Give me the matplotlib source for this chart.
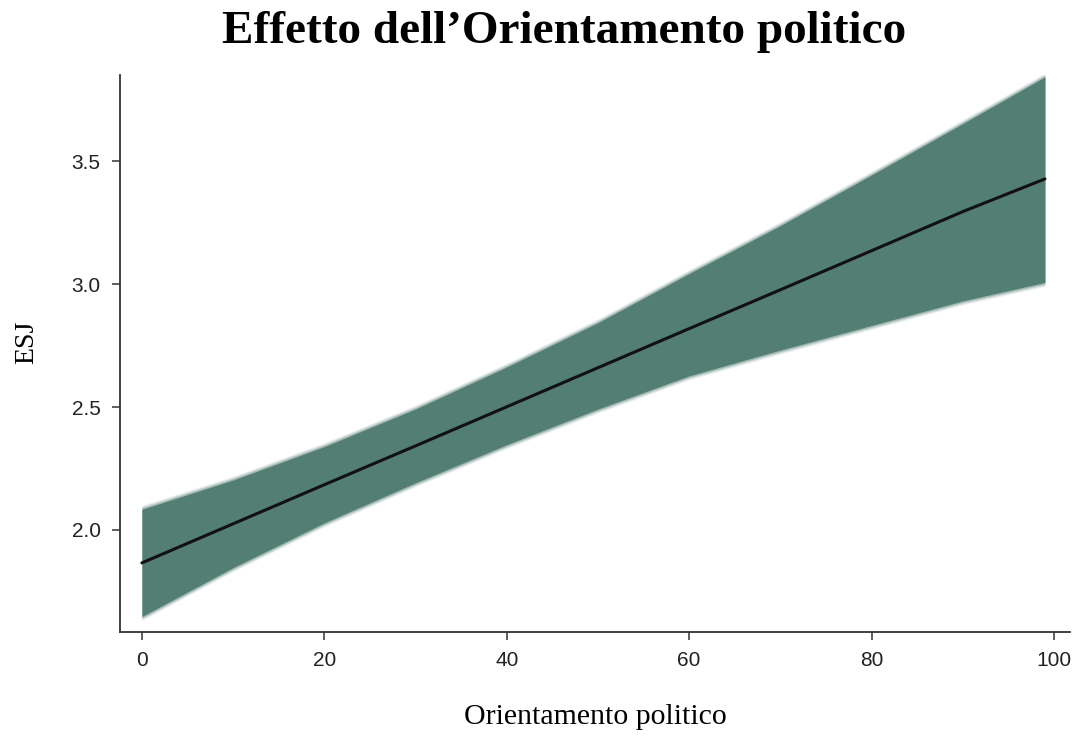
import matplotlib.pyplot as plt
import numpy as np

# dati
orientamento = [0, 10, 20, 30, 40, 50, 60, 70, 80, 90, 99]
esj_stima = [1.866, 2.025, 2.184, 2.342, 2.501, 2.660, 2.819, 2.977, 3.136, 3.295, 3.428]
esj_inf = [1.646, 1.845, 2.027, 2.19, 2.345, 2.49, 2.625, 2.73, 2.83, 2.93, 3.005]
esj_sup = [2.086, 2.205, 2.341, 2.494, 2.665, 2.845, 3.045, 3.24, 3.446, 3.655, 3.845]

xticks = [0, 20, 40, 60, 80, 100]
yticks = [2.0, 2.5, 3.0, 3.5]

colore = '#537e73'
serif = ['Liberation Serif', 'DejaVu Serif']
sans = ['Liberation Sans', 'DejaVu Sans']

fig = plt.figure(figsize=(10.78, 7.37), dpi=100)
ax = fig.add_axes([0.1113, 0.1425, 0.8813, 0.7555])

x = np.array(orientamento)
inf = np.array(esj_inf)
sup = np.array(esj_sup)

# bordo sfumato della banda
for d, a in [(0.014, 0.12), (0.009, 0.2), (0.004, 0.35)]:
    ax.fill_between(x, inf - d, sup + d, color=colore, alpha=a, lw=0)
ax.fill_between(x, inf + 0.002, sup - 0.002, color=colore, lw=0)
ax.plot(orientamento, esj_stima, color='#111111', lw=2.2, solid_capstyle='round')

ax.set_xlim(-2.4, 101.75)
ax.set_ylim(1.585, 3.85)
ax.set_xticks(xticks)
ax.set_yticks(yticks)
ax.set_yticklabels([f'{v:.1f}' for v in yticks])

for s in ['top', 'right']:
    ax.spines[s].set_visible(False)
for s in ['left', 'bottom']:
    ax.spines[s].set_color('#333333')
    ax.spines[s].set_linewidth(1.3)

ax.tick_params(direction='out', length=6, width=1.1, color='#333333', pad=8)
for lab in ax.get_xticklabels() + ax.get_yticklabels():
    lab.set_family(sans)
    lab.set_fontsize(15)
    lab.set_color('#222222')

ax.set_xlabel('Orientamento politico', family=serif, fontsize=21.5, labelpad=24)
ax.set_ylabel('ESJ', family=serif, fontsize=20)
ax.yaxis.set_label_coords(-0.085, 0.52)
fig.text(0.523, 0.957, 'Effetto dell\u2019Orientamento politico', family=serif,
         fontsize=34, fontweight='bold', ha='center', va='center')

fig.savefig('out.png', dpi=100)
